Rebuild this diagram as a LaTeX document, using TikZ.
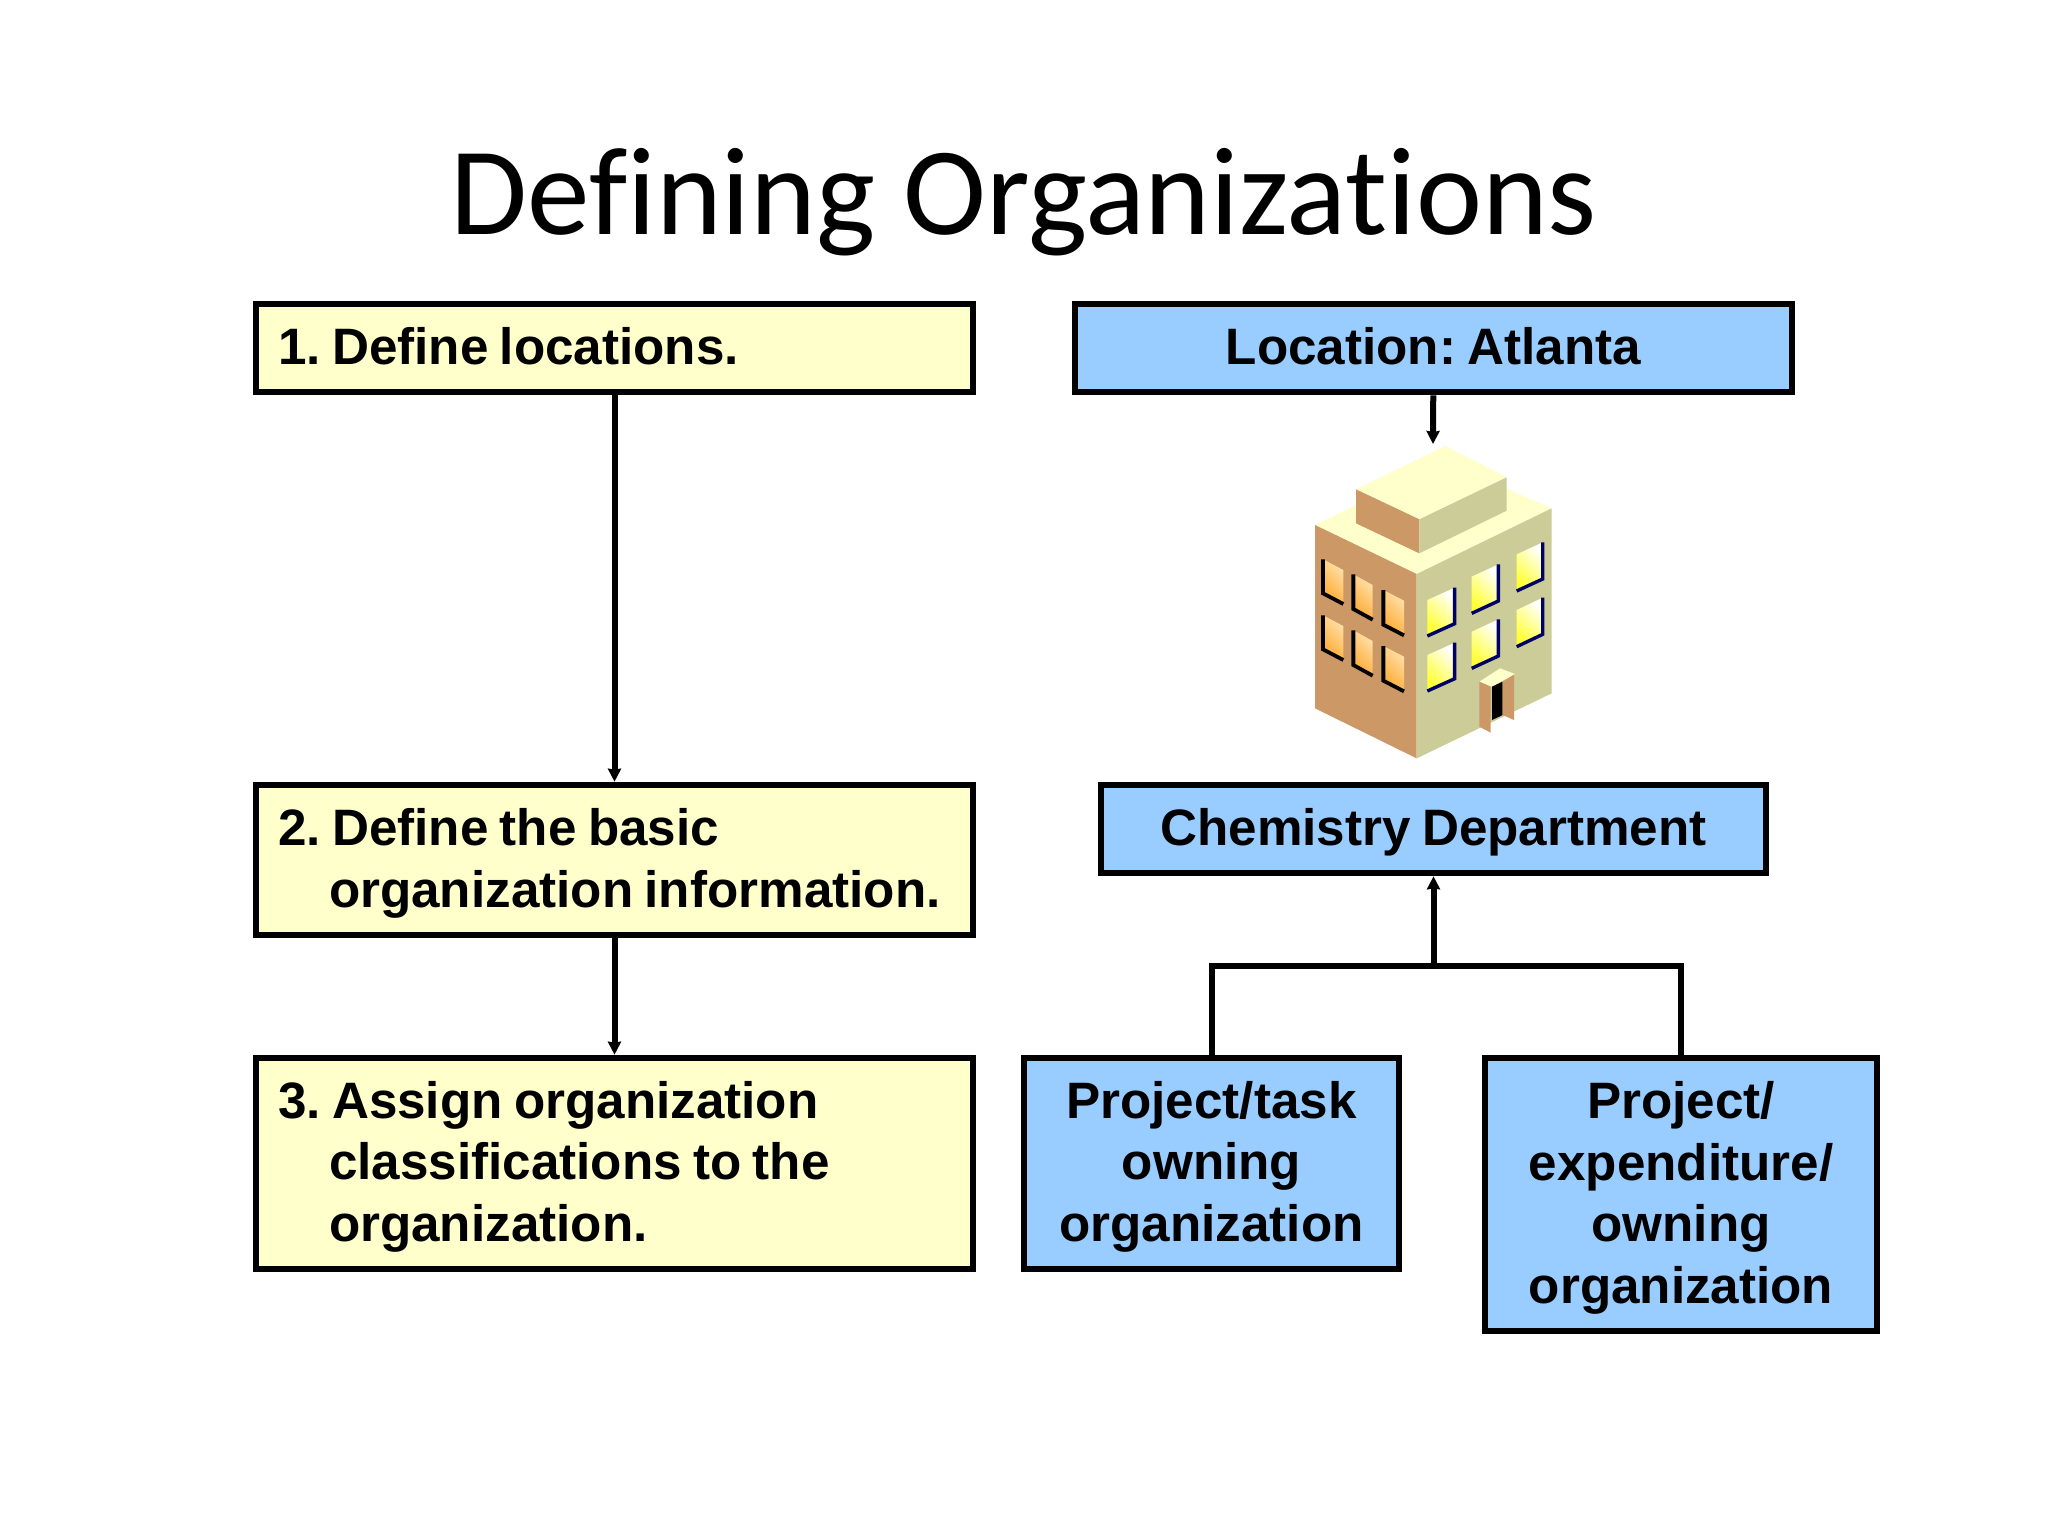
\documentclass[tikz,border=0pt]{standalone}
\usepackage{fontspec}
\setmainfont[WordSpace=0.8]{Liberation Sans}
\newfontfamily\titlefont[Ligatures=NoCommon]{Carlito}
\usetikzlibrary{arrows.meta}
\definecolor{paleyellow}{HTML}{FFFFCC}
\definecolor{skyblue}{HTML}{99CCFF}
\definecolor{wallleft}{HTML}{CC9966}
\definecolor{wallright}{HTML}{CCCC99}
\definecolor{navywin}{HTML}{000066}
\definecolor{winorange}{HTML}{FFAA33}
\definecolor{winpeach}{HTML}{FFE0A8}
\definecolor{winyellow}{HTML}{FFFF33}
\newcommand{\st}{\rule[-7.25pt]{0pt}{30.75pt}}
\tikzset{
  box/.style={draw=black,line width=3.3pt,inner sep=0pt,font=\bfseries\fontsize{25.6}{30.75}\selectfont\frenchspacing},
  stepbox/.style={box,fill=paleyellow,align=flush left},
  bluebox/.style={box,fill=skyblue,align=center},
  link/.style={draw=black,line width=3pt},
  arrowlink/.style={link,-{Stealth[length=6.5pt,width=6.5pt,inset=0.5pt]}},
}
\newcommand{\lwin}[5]{% x1 x2 ytopleft ytopright height
  \shade[shading=axis,top color=winorange,bottom color=winpeach,shading angle=135]
    (#1,#3) -- (#2,#4) -- (#2,#4+#5) -- (#1,#3+#5) -- cycle;
  \draw[black,line width=1.9pt] (#1,#3) -- (#1,#3+#5) -- (#2,#4+#5);}
\newcommand{\rwin}[5]{% x1 x2 ytopleft ytopright height
  \shade[shading=axis,top color=winyellow,bottom color=white,shading angle=135]
    (#1,#3) -- (#2,#4) -- (#2,#4+#5) -- (#1,#3+#5) -- cycle;
  \draw[navywin,line width=1.7pt] (#2,#4) -- (#2,#4+#5) -- (#1,#3+#5);}
\newcommand{\hang}{\hspace*{25.5pt}}
\begin{document}
\begin{tikzpicture}[x=0.5pt,y=-0.5pt]
\useasboundingbox (0,0) rectangle (2048,1536);
\fill[white] (0,0) rectangle (2048,1536);

\node[font=\titlefont\fontsize{62.6}{64}\selectfont,anchor=base] (title) at (1024,234) {Defining Organizations};

% left column
\node[stepbox,minimum width=358.5pt,minimum height=44pt,text width=336.5pt] (s1) at (614.5,348) {\st 1. Define locations.};
\node[stepbox,minimum width=358.5pt,minimum height=75pt,text width=336.5pt] (s2) at (614.5,860) {\st 2. Define the basic\\\st\hang organization information.};
\node[stepbox,minimum width=358.5pt,minimum height=105.5pt,text width=336.5pt] (s3) at (614.5,1163.5) {\st 3. Assign organization\\\st\hang classifications to the\\\st\hang organization.};
\draw[arrowlink] (s1) -- (s2);
\draw[arrowlink] (s2) -- (s3);

% right column
\node[bluebox,minimum width=358.5pt,minimum height=44pt] (loc) at (1433.5,348) {\st Location: Atlanta};
\node[bluebox,minimum width=332.5pt,minimum height=44pt] (chem) at (1433.5,829) {\st Chemistry Department};
\node[bluebox,minimum width=187.5pt,minimum height=105.5pt] (pt) at (1211.5,1163.5) {\st Project/task\\\st owning\\\st organization};
\node[bluebox,minimum width=196pt,minimum height=136.5pt] (pe) at (1681,1194.5) {\st Project/\\\st expenditure/\\\st owning\\\st organization};

\coordinate (bldgtop) at (1433,444);
\coordinate (bus) at (1433.5,966);
\draw[arrowlink] (loc) -- (bldgtop);
\draw[arrowlink] (bus) -- (chem);
\draw[link] (pt.north) |- (bus) -| (pe.north);

% building
\begin{scope}[shift={(1280,420)},x=0.16667pt,y=-0.16667pt]
  \fill[paleyellow] (105,315) -- (495,125) -- (815,265) -- (410,462) -- cycle;
  \fill[wallleft] (105,315) -- (410,462) -- (410,1015) -- (105,865) -- cycle;
  \fill[wallright] (410,462) -- (815,265) -- (815,820) -- (410,1015) -- cycle;
  \fill[paleyellow] (228,208) -- (495,78) -- (680,172) -- (418,298) -- cycle;
  \fill[wallleft] (228,208) -- (418,298) -- (418,400) -- (228,310) -- cycle;
  \fill[wallright] (418,298) -- (680,172) -- (680,272) -- (418,400) -- cycle;
  \lwin{129}{190}{418}{450}{102}
  \lwin{220}{278}{463}{495}{104}
  \lwin{310}{372}{510}{542}{104}
  \lwin{129}{190}{586}{618}{102}
  \lwin{220}{278}{631}{663}{104}
  \lwin{310}{372}{678}{710}{104}
  \rwin{442}{524}{540}{503}{108}
  \rwin{575}{655}{470}{433}{110}
  \rwin{710}{788}{403}{367}{110}
  \rwin{442}{524}{705}{668}{108}
  \rwin{575}{655}{635}{598}{110}
  \rwin{710}{788}{570}{533}{110}
  \fill[paleyellow] (598,785) -- (660,745) -- (705,762) -- (635,800) -- cycle;
  \fill[wallleft] (598,785) -- (632,800) -- (632,938) -- (598,920) -- cycle;
  \fill[black] (636,800) -- (668,785) -- (668,885) -- (636,900) -- cycle;
  \fill[wallleft] (668,785) -- (702,764) -- (702,900) -- (668,885) -- cycle;
\end{scope}
\end{tikzpicture}
\end{document}
